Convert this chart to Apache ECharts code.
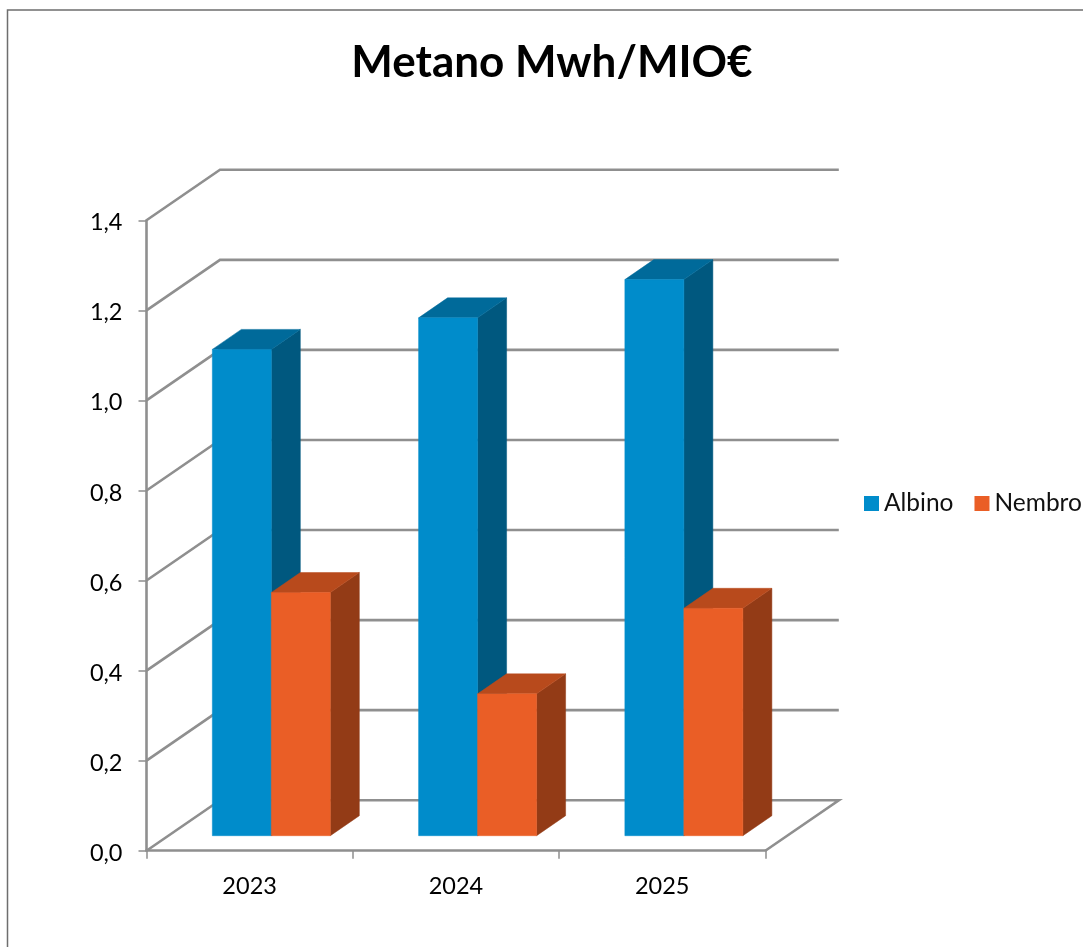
<!DOCTYPE html>
<html><head><meta charset="utf-8">
<style>html,body{margin:0;padding:0;background:#fff}#c{width:1083px;height:947px}</style>
<script src="https://cdn.jsdelivr.net/npm/echarts@6/dist/echarts.min.js"></script>
</head><body><div id="c"></div>
<script>
const categories = ['2023','2024','2025'];
const albino = [1.08,1.15,1.235];
const nembro = [0.54,0.315,0.505];
const valueTicks = [0,0.2,0.4,0.6,0.8,1.0,1.2,1.4];

const FONT = 'Lato';
const LINE = '#8f8f8f';
// 3D projection of the chart box and of the bars, in pixels
const WALL_DX = 73.5, WALL_DY = -50.5;
const BAR_SHIFT_X = 21.7, BAR_LIFT = 15;
const BAR_W = 59, BAR_DX = 29, BAR_DY = -20;

function wallItem(params, api){
  const v = api.value(0);
  const cs = params.coordSys;
  const p = api.coord([0, v]);
  const x0 = cs.x, x1 = cs.x + cs.width;
  const style = {stroke: LINE, lineWidth: 2.6, fill: null};
  const pts = [[x0,p[1]],[x0+WALL_DX,p[1]+WALL_DY],[x1+WALL_DX,p[1]+WALL_DY]];
  if (v === 0) pts.push([x1,p[1]]);
  return {type:'polyline', shape:{points:pts}, style:style};
}
function barItem(colors, side){
  return function(params, api){
    const i = api.value(0);
    const top = api.coord([i, api.value(1)]);
    const base = api.coord([i, 0]);
    const xl = side === 0 ? top[0] + BAR_SHIFT_X - BAR_W : top[0] + BAR_SHIFT_X;
    const xr = xl + BAR_W;
    const yt = top[1] - BAR_LIFT, yb = base[1] - BAR_LIFT;
    const poly = (pts,c) => ({type:'polygon', shape:{points:pts}, style:{fill:c, stroke:c, lineWidth:0.5}});
    return {type:'group', children:[
      poly([[xr,yt],[xr+BAR_DX,yt+BAR_DY],[xr+BAR_DX,yb+BAR_DY],[xr,yb]], colors[2]),
      poly([[xl,yt],[xl+BAR_DX,yt+BAR_DY],[xr+BAR_DX,yt+BAR_DY],[xr,yt]], colors[1]),
      poly([[xl,yt],[xr,yt],[xr,yb],[xl,yb]], colors[0])
    ]};
  };
}
const blue = ['#008ccb','#006a9a','#00587f'];
const orange = ['#ea5e26','#b84a1c','#933b16'];
const chart = echarts.init(document.getElementById('c'), null, {renderer:'canvas'});
chart.setOption({
  animation:false,
  backgroundColor:'#fff',
  title:{text:'Metano Mwh/MIO€', left:547, top:36, textAlign:'center',
    textStyle:{fontFamily:FONT,fontWeight:'bold',fontSize:44,color:'#000'}},
  legend:{data:['Albino','Nembro'], left:864, top:491, padding:0, itemWidth:15, itemHeight:15, itemGap:21,
    icon:'rect', textStyle:{fontFamily:FONT,fontSize:24.5,color:'#111'}},
  graphic:[{type:'polyline', silent:true, z:-1,
    shape:{points:[[7.5,947],[7.5,10],[1083,10]]}, style:{stroke:'#6e6e6e',lineWidth:1.5,fill:null}}],
  grid:{left:146.5, top:220.3, width:618.8, height:630.4},
  xAxis:{type:'category', data:categories,
    axisLine:{lineStyle:{color:LINE,width:2.6}},
    axisTick:{show:true,length:8,lineStyle:{color:LINE,width:1.5}},
    axisLabel:{fontFamily:FONT,fontSize:23.5,color:'#000',margin:24},
    splitLine:{show:false}},
  yAxis:{type:'value', min:0, max:1.4, interval:0.2,
    axisLine:{show:true,lineStyle:{color:LINE,width:2.6}},
    axisTick:{show:true,length:8,lineStyle:{color:LINE,width:1.5}},
    axisLabel:{color:'#000',margin:24,
      formatter:v=>'{t|'+v.toFixed(1).replace('.',',')+'}',
      rich:{t:{fontFamily:FONT,fontSize:23.5,color:'#000',padding:[5,0,0,0]}}},
    splitLine:{show:false}},
  series:[
    {type:'custom', name:'walls', silent:true, z:1, data:valueTicks.map(v=>[v]), encode:{y:0},
      renderItem:wallItem},
    {type:'custom', name:'Albino', z:2, itemStyle:{color:blue[0]},
      data:albino.map((v,i)=>[i,v]), encode:{x:0,y:1}, renderItem:barItem(blue,0)},
    {type:'custom', name:'Nembro', z:3, itemStyle:{color:orange[0]},
      data:nembro.map((v,i)=>[i,v]), encode:{x:0,y:1}, renderItem:barItem(orange,1)}
  ]
});
</script></body></html>
